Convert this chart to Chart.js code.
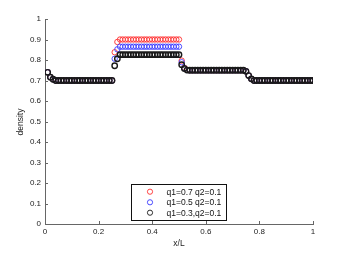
<!DOCTYPE html>
<html><head><meta charset="utf-8">
<script src="https://cdn.jsdelivr.net/npm/chart.js@4.4.0/dist/chart.umd.min.js"></script>
<style>html,body{margin:0;padding:0;background:#fff;}#wrap{width:346px;height:253px;}</style>
</head><body><div id="wrap"><canvas id="c" width="346" height="253"></canvas></div>
<script>
const xPos = [
0.01,0.02,0.03,0.04,0.05,0.06,0.07,0.08,0.09,0.10,
0.11,0.12,0.13,0.14,0.15,0.16,0.17,0.18,0.19,0.20,
0.21,0.22,0.23,0.24,0.25,0.26,0.27,0.28,0.29,0.30,
0.31,0.32,0.33,0.34,0.35,0.36,0.37,0.38,0.39,0.40,
0.41,0.42,0.43,0.44,0.45,0.46,0.47,0.48,0.49,0.50,
0.51,0.52,0.53,0.54,0.55,0.56,0.57,0.58,0.59,0.60,
0.61,0.62,0.63,0.64,0.65,0.66,0.67,0.68,0.69,0.70,
0.71,0.72,0.73,0.74,0.75,0.76,0.77,0.78,0.79,0.80,
0.81,0.82,0.83,0.84,0.85,0.86,0.87,0.88,0.89,0.90,
0.91,0.92,0.93,0.94,0.95,0.96,0.97,0.98,0.99,1.00];
const densQ07 = [
0.740,0.716,0.706,0.700,0.700,0.700,0.700,0.700,0.700,0.700,
0.700,0.700,0.700,0.700,0.700,0.700,0.700,0.700,0.700,0.700,
0.700,0.700,0.700,0.700,0.700,0.838,0.888,0.900,0.900,0.900,
0.900,0.900,0.900,0.900,0.900,0.900,0.900,0.900,0.900,0.900,
0.900,0.900,0.900,0.900,0.900,0.900,0.900,0.900,0.900,0.900,
0.797,0.762,0.752,0.750,0.750,0.750,0.750,0.750,0.750,0.750,
0.750,0.750,0.750,0.750,0.750,0.750,0.750,0.750,0.750,0.750,
0.750,0.750,0.750,0.750,0.745,0.724,0.708,0.700,0.700,0.700,
0.700,0.700,0.700,0.700,0.700,0.700,0.700,0.700,0.700,0.700,
0.700,0.700,0.700,0.700,0.700,0.700,0.700,0.700,0.700,0.700];
const densQ05 = [
0.740,0.716,0.706,0.700,0.700,0.700,0.700,0.700,0.700,0.700,
0.700,0.700,0.700,0.700,0.700,0.700,0.700,0.700,0.700,0.700,
0.700,0.700,0.700,0.700,0.700,0.806,0.852,0.865,0.865,0.865,
0.865,0.865,0.865,0.865,0.865,0.865,0.865,0.865,0.865,0.865,
0.865,0.865,0.865,0.865,0.865,0.865,0.865,0.865,0.865,0.865,
0.789,0.760,0.751,0.750,0.750,0.750,0.750,0.750,0.750,0.750,
0.750,0.750,0.750,0.750,0.750,0.750,0.750,0.750,0.750,0.750,
0.750,0.750,0.750,0.750,0.745,0.724,0.708,0.700,0.700,0.700,
0.700,0.700,0.700,0.700,0.700,0.700,0.700,0.700,0.700,0.700,
0.700,0.700,0.700,0.700,0.700,0.700,0.700,0.700,0.700,0.700];
const densQ03 = [
0.740,0.716,0.706,0.700,0.700,0.700,0.700,0.700,0.700,0.700,
0.700,0.700,0.700,0.700,0.700,0.700,0.700,0.700,0.700,0.700,
0.700,0.700,0.700,0.700,0.700,0.772,0.806,0.826,0.826,0.826,
0.826,0.826,0.826,0.826,0.826,0.826,0.826,0.826,0.826,0.826,
0.826,0.826,0.826,0.826,0.826,0.826,0.826,0.826,0.826,0.826,
0.777,0.758,0.751,0.750,0.750,0.750,0.750,0.750,0.750,0.750,
0.750,0.750,0.750,0.750,0.750,0.750,0.750,0.750,0.750,0.750,
0.750,0.750,0.750,0.750,0.745,0.724,0.708,0.700,0.700,0.700,
0.700,0.700,0.700,0.700,0.700,0.700,0.700,0.700,0.700,0.700,
0.700,0.700,0.700,0.700,0.700,0.700,0.700,0.700,0.700,0.700];
const seriesLabels = ['q1=0.7 q2=0.1','q1=0.5 q2=0.1','q1=0.3,q2=0.1'];
const seriesColors = ['#ff3030','#3a3aff','#1a1a1a'];
const xTicks = [0,0.2,0.4,0.6,0.8,1];
const yTicks = [0,0.1,0.2,0.3,0.4,0.5,0.6,0.7,0.8,0.9,1];
const xTitle = 'x/L';
const yTitle = 'density';

const FONT = '"Liberation Sans", Arial, sans-serif';
const allSeries = [densQ07, densQ05, densQ03];
const borderW = [0.9, 0.9, 1.4];
const datasets = allSeries.map((s,i)=>({
  label: seriesLabels[i],
  data: s.map((v,k)=>({x:xPos[k], y:v})),
  showLine:false,
  pointStyle:'circle',
  pointRadius:2.7,
  pointBorderWidth:borderW[i],
  pointBorderColor:seriesColors[i],
  pointBackgroundColor:'rgba(0,0,0,0)',
  order: 2-i
}));

const AXC = '#666';
const decor = {
  id:'decor',
  afterDraw(chart){
    const ctx = chart.ctx, xs = chart.scales.x, ys = chart.scales.y;
    ctx.save();
    ctx.strokeStyle = AXC; ctx.lineWidth = 1;
    ctx.beginPath();
    xTicks.forEach(t=>{const px=Math.round(xs.getPixelForValue(t))+0.5; ctx.moveTo(px, ys.bottom); ctx.lineTo(px, ys.bottom-3);});
    yTicks.forEach(t=>{const py=Math.round(ys.getPixelForValue(t))+0.5; ctx.moveTo(xs.left, py); ctx.lineTo(xs.left+3, py);});
    ctx.stroke();
    ctx.fillStyle = '#222';
    ctx.font = '8.5px ' + FONT;
    ctx.textAlign='center'; ctx.textBaseline='middle';
    ctx.fillText(xTitle, 179, 244);
    ctx.translate(21, 122); ctx.rotate(-Math.PI/2);
    ctx.fillText(yTitle, 0, 0);
    ctx.restore();
    ctx.save();
    const L=131.5, T=184.5, W=95, H=36;
    ctx.fillStyle='#fff'; ctx.fillRect(L,T,W,H);
    ctx.strokeStyle='#111'; ctx.lineWidth=1; ctx.strokeRect(L,T,W,H);
    const rows=[191.7,202.3,212.7];
    ctx.font='8.5px ' + FONT; ctx.textAlign='left'; ctx.textBaseline='middle';
    seriesLabels.forEach((lab,i)=>{
      ctx.beginPath(); ctx.strokeStyle=seriesColors[i]; ctx.lineWidth=0.9;
      ctx.arc(150, rows[i], 2.6, 0, Math.PI*2); ctx.stroke();
      ctx.fillStyle='#111'; ctx.fillText(lab, 166.5, rows[i]+0.5);
    });
    ctx.restore();
  }
};

new Chart(document.getElementById('c'), {
  type:'scatter',
  data:{datasets},
  options:{
    responsive:false, animation:false, devicePixelRatio:1,
    layout:{padding:{left:0,right:33,top:19,bottom:0}},
    plugins:{legend:{display:false}, tooltip:{enabled:false}},
    scales:{
      x:{type:'linear', min:0, max:1,
        afterBuildTicks(s){ s.ticks = xTicks.map(v=>({value:v})); },
        afterFit(s){ s.height = 29; },
        grid:{display:false, drawTicks:false},
        border:{display:true, color:AXC, width:1},
        ticks:{padding:3, color:'#222', font:{family:FONT, size:8}, maxRotation:0, autoSkip:false,
          callback:(v)=>String(+v.toFixed(1))}
      },
      y:{type:'linear', min:0, max:1,
        afterBuildTicks(s){ s.ticks = yTicks.map(v=>({value:v})); },
        afterFit(s){ s.width = 45; },
        grid:{display:false, drawTicks:false},
        border:{display:true, color:AXC, width:1},
        ticks:{padding:4, color:'#222', font:{family:FONT, size:8}, autoSkip:false,
          callback:(v)=>String(+v.toFixed(1))}
      }
    }
  },
  plugins:[decor]
});
</script></body></html>
